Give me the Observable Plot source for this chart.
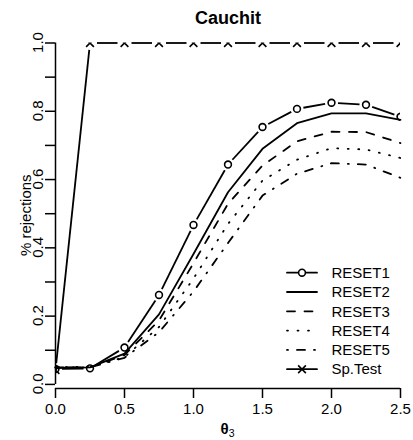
<!DOCTYPE html>
<html><head><meta charset="utf-8">
<script src="https://cdn.jsdelivr.net/npm/d3@7"></script>
<script src="https://cdn.jsdelivr.net/npm/@observablehq/plot@0.6"></script>
<style>html,body{margin:0;padding:0;background:#fff} svg{display:block}</style>
</head><body><div id="chart"></div>
<script>
// ---- data ----
const theta  = [0, 0.25, 0.5, 0.75, 1.0, 1.25, 1.5, 1.75, 2.0, 2.25, 2.5];
const reset1 = [0.045, 0.047, 0.108, 0.262, 0.467, 0.644, 0.754, 0.807, 0.825, 0.819, 0.784];
const reset2 = [0.048, 0.050, 0.090, 0.205, 0.382, 0.563, 0.690, 0.765, 0.794, 0.794, 0.775];
const reset3 = [0.050, 0.050, 0.086, 0.187, 0.355, 0.529, 0.641, 0.712, 0.740, 0.739, 0.707];
const reset4 = [0.050, 0.052, 0.080, 0.168, 0.310, 0.470, 0.597, 0.658, 0.692, 0.688, 0.663];
const reset5 = [0.050, 0.050, 0.078, 0.153, 0.272, 0.414, 0.553, 0.617, 0.648, 0.644, 0.605];
const spTest = [0.042, 1, 1, 1, 1, 1, 1, 1, 1, 1, 1];
const seriesNames = ["RESET1", "RESET2", "RESET3", "RESET4", "RESET5", "Sp.Test"];
const xTicks = [0, 0.5, 1.0, 1.5, 2.0, 2.5];
const yTicks = [0, 0.1, 0.2, 0.3, 0.4, 0.5, 0.6, 0.7, 0.8, 0.9, 1.0];
const yLabels = [0, 0.2, 0.4, 0.6, 0.8, 1.0];
const titleText = "Cauchit";
const yLabelText = "% rejections";
const xLabelMain = "θ", xLabelSub = "3";

// ---- layout ----
const W = 413, H = 440, mL = 55, mR = 13, mT = 42.5, mB = 52;
const xDomain = [0, 2.5], yDomain = [-0.012, 1];
const kx = (W - mL - mR) / (xDomain[1] - xDomain[0]);
const ky = (H - mT - mB) / (yDomain[1] - yDomain[0]);
const LW = 1.8;
const FONT = "'Liberation Sans', Arial, Helvetica, sans-serif";

const pts = ys => theta.map((x, i) => ({x, y: ys[i]}));
// segments with gaps around points (R type = "b")
function gapped(ys, gap) {
  const segs = [];
  for (let i = 0; i < theta.length - 1; i++) {
    const x1 = theta[i], y1 = ys[i], x2 = theta[i + 1], y2 = ys[i + 1];
    const L = Math.hypot((x2 - x1) * kx, (y2 - y1) * ky);
    if (L <= 2 * gap) continue;
    const f = gap / L;
    segs.push({x1: x1 + f * (x2 - x1), y1: y1 + f * (y2 - y1), x2: x2 - f * (x2 - x1), y2: y2 - f * (y2 - y1)});
  }
  return segs;
}
const dashes = {RESET3: "8,9.5", RESET4: "1,9.5", RESET5: "1,9,8,9"};
const fmt = d3.format(".1f");

const chart = Plot.plot({
  width: W, height: H,
  marginLeft: mL, marginRight: mR, marginTop: mT, marginBottom: mB,
  x: {domain: xDomain},
  y: {domain: yDomain},
  style: {fontFamily: FONT, fontSize: "15px", background: "#fff", color: "#000", overflow: "visible"},
  marks: [
    Plot.axisX({ticks: xTicks, tickSize: 10, tickPadding: 5, tickFormat: fmt, label: null, strokeWidth: 1.5, fontSize: 15}),
    Plot.axisY({ticks: yTicks, tickSize: 10, tickFormat: () => "", label: null, strokeWidth: 1.5}),
    Plot.ruleX([xDomain[0]], {y1: yTicks[0], y2: yTicks[yTicks.length - 1], strokeWidth: 1.5}),
    Plot.ruleY([yDomain[0]], {x1: xDomain[0], x2: xDomain[1], strokeWidth: 1.5}),
    Plot.text([titleText], {frameAnchor: "top", dy: -19.2, lineAnchor: "bottom", fontWeight: "bold", fontSize: 18}),
    // series
    Plot.line(pts(reset2), {x: "x", y: "y", stroke: "#000", strokeWidth: LW}),
    Plot.line(pts(reset3), {x: "x", y: "y", stroke: "#000", strokeWidth: LW, strokeDasharray: dashes.RESET3}),
    Plot.line(pts(reset4), {x: "x", y: "y", stroke: "#000", strokeWidth: LW, strokeDasharray: dashes.RESET4}),
    Plot.line(pts(reset5), {x: "x", y: "y", stroke: "#000", strokeWidth: LW, strokeDasharray: dashes.RESET5}),
    Plot.link(gapped(reset1, 6.5), {x1: "x1", y1: "y1", x2: "x2", y2: "y2", stroke: "#000", strokeWidth: LW}),
    Plot.dot(pts(reset1), {x: "x", y: "y", r: 3.4, stroke: "#000", fill: "none", strokeWidth: 1.6, clip: true}),
    Plot.link(gapped(spTest, 7), {x1: "x1", y1: "y1", x2: "x2", y2: "y2", stroke: "#000", strokeWidth: LW}),
    Plot.dot(pts(spTest), {x: "x", y: "y", r: 3.6, symbol: "times", stroke: "#000", strokeWidth: 1.6, clip: true})
  ]
});

const svg = d3.select(chart);
const ys = chart.scale("y"), xs = chart.scale("x");
const yPix = v => ys.apply(v), xPix = v => xs.apply(v);
const ann = svg.append("g").attr("font-family", FONT).attr("font-size", 15).attr("fill", "#000");

// rotated y tick labels (baseline just left of the ticks)
yLabels.forEach(v => {
  ann.append("text").attr("text-anchor", "middle")
    .attr("transform", `translate(${mL - 12},${yPix(v)}) rotate(-90)`)
    .text(fmt(v));
});
// y axis title
ann.append("text").attr("text-anchor", "middle")
  .attr("transform", `translate(${mL - 24.5},${(yPix(yDomain[0]) + yPix(yDomain[1])) / 2}) rotate(-90)`)
  .text(yLabelText);
// x axis title theta_3
const xt = ann.append("text").attr("text-anchor", "middle")
  .attr("x", (xPix(xDomain[0]) + xPix(xDomain[1])) / 2).attr("y", H - 6);
xt.append("tspan").attr("font-weight", "bold").text(xLabelMain);
xt.append("tspan").attr("font-size", 10.5).attr("dy", 3).text(xLabelSub);

// ---- legend ----
const lg = svg.append("g").attr("font-family", FONT).attr("font-size", 15).attr("text-anchor", "start");
const lx1 = 287, lx2 = 317, ltx = 331.5, ly0 = 272.7, ldy = 19.3;
seriesNames.forEach((name, i) => {
  const y = ly0 + i * ldy;
  lg.append("line").attr("x1", lx1).attr("x2", lx2).attr("y1", y).attr("y2", y)
    .attr("stroke", "#000").attr("stroke-width", LW).attr("stroke-linecap", "round")
    .attr("stroke-dasharray", dashes[name] || null);
  if (name === "RESET1") {
    lg.append("circle").attr("cx", (lx1 + lx2) / 2).attr("cy", y).attr("r", 3.4)
      .attr("fill", "#fff").attr("stroke", "#000").attr("stroke-width", 1.6);
  }
  if (name === "Sp.Test") {
    lg.append("path").attr("d", d3.symbol(d3.symbolTimes, 3.6 * 3.6 * Math.PI)())
      .attr("transform", `translate(${(lx1 + lx2) / 2},${y})`)
      .attr("fill", "none").attr("stroke", "#000").attr("stroke-width", 1.6);
  }
  lg.append("text").attr("x", ltx).attr("y", y).attr("dy", "0.35em").attr("text-anchor", "start").text(name);
});

document.getElementById("chart").append(chart);
</script>
</body></html>
